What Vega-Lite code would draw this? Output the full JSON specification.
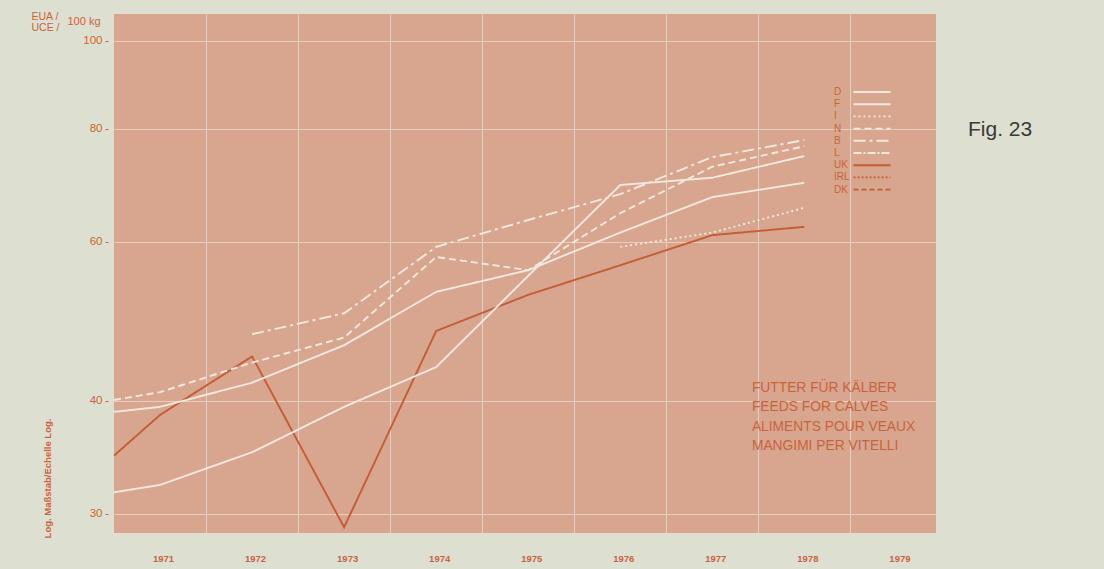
{
  "$schema": "https://vega.github.io/schema/vega-lite/v6.json",
  "width": 822,
  "height": 519,
  "autosize": {"type": "none"},
  "padding": {"left": 114, "top": 14, "right": 168, "bottom": 36},
  "background": "#dde0d0",
  "config": {
    "view": {"fill": "#d8a68f", "stroke": null},
    "font": "Liberation Sans"
  },
  "title": {
    "text": "Fig. 23",
    "anchor": "start",
    "frame": "group",
    "offset": 0,
    "dx": 854,
    "dy": 146,
    "baseline": "alphabetic",
    "fontSize": 21,
    "fontWeight": "normal",
    "color": "#3a3a3a",
    "font": "Liberation Sans"
  },
  "data": {
    "values": [
      {"s": "UK", "year": 1970.5, "v": 34.8},
      {"s": "UK", "year": 1971, "v": 38.6},
      {"s": "UK", "year": 1972, "v": 44.8},
      {"s": "UK", "year": 1973, "v": 29.0},
      {"s": "UK", "year": 1974, "v": 47.8},
      {"s": "UK", "year": 1975, "v": 52.4},
      {"s": "UK", "year": 1976, "v": 56.5},
      {"s": "UK", "year": 1977, "v": 61.0},
      {"s": "UK", "year": 1978, "v": 62.3},
      {"s": "D", "year": 1970.5, "v": 38.9},
      {"s": "D", "year": 1971, "v": 39.4},
      {"s": "D", "year": 1972, "v": 41.9},
      {"s": "D", "year": 1973, "v": 46.1},
      {"s": "D", "year": 1974, "v": 52.8},
      {"s": "D", "year": 1975, "v": 55.8},
      {"s": "D", "year": 1976, "v": 61.4},
      {"s": "D", "year": 1977, "v": 67.2},
      {"s": "D", "year": 1978, "v": 69.7},
      {"s": "F", "year": 1970.5, "v": 31.7},
      {"s": "F", "year": 1971, "v": 32.3},
      {"s": "F", "year": 1972, "v": 35.1},
      {"s": "F", "year": 1973, "v": 39.4},
      {"s": "F", "year": 1974, "v": 43.6},
      {"s": "F", "year": 1975, "v": 55.0},
      {"s": "F", "year": 1976, "v": 69.3},
      {"s": "F", "year": 1977, "v": 70.6},
      {"s": "F", "year": 1978, "v": 74.6},
      {"s": "N", "year": 1970.5, "v": 40.1},
      {"s": "N", "year": 1971, "v": 40.9},
      {"s": "N", "year": 1972, "v": 44.1},
      {"s": "N", "year": 1973, "v": 47.0},
      {"s": "N", "year": 1974, "v": 57.7},
      {"s": "N", "year": 1975, "v": 55.8},
      {"s": "N", "year": 1976, "v": 64.5},
      {"s": "N", "year": 1977, "v": 72.6},
      {"s": "N", "year": 1978, "v": 76.5},
      {"s": "B", "year": 1972, "v": 47.4},
      {"s": "B", "year": 1973, "v": 50.0},
      {"s": "B", "year": 1974, "v": 59.2},
      {"s": "B", "year": 1975, "v": 63.4},
      {"s": "B", "year": 1976, "v": 67.7},
      {"s": "B", "year": 1977, "v": 74.4},
      {"s": "B", "year": 1978, "v": 77.7},
      {"s": "I", "year": 1976, "v": 59.2},
      {"s": "I", "year": 1977, "v": 61.4},
      {"s": "I", "year": 1978, "v": 65.4}
    ]
  },
  "layer": [
    {
      "mark": {"type": "line", "strokeCap": "butt", "strokeJoin": "miter"},
      "encoding": {
        "x": {
          "field": "year",
          "type": "quantitative",
          "scale": {"domain": [1970.5, 1979.43], "nice": false, "zero": false},
          "axis": {
            "orient": "bottom",
            "values": [1971, 1972, 1973, 1974, 1975, 1976, 1977, 1978, 1979],
            "format": "d",
            "grid": false,
            "ticks": false,
            "domain": false,
            "labelPadding": 20,
            "labelOffset": 3,
            "labelFontSize": 9.5,
            "labelFontWeight": "bold",
            "labelColor": "#c8643c",
            "title": null
          }
        },
        "y": {
          "field": "v",
          "type": "quantitative",
          "scale": {"type": "log", "domain": [28.58, 107.1], "nice": false, "zero": false},
          "axis": {
            "orient": "left",
            "values": [30, 40, 60, 80, 100],
            "format": "d",
            "grid": true,
            "gridColor": "#ebcdbd",
            "gridWidth": 1,
            "gridOpacity": 1,
            "domain": false,
            "offset": 6,
            "tickSize": 3,
            "tickColor": "#c8643c",
            "labelPadding": 3,
            "labelFontSize": 11.5,
            "labelColor": "#c8643c",
            "title": "Log. Maßstab/Echelle Log.",
            "titleAngle": 270,
            "titleX": -61,
            "titleY": 464,
            "titleAlign": "center",
            "titleBaseline": "middle",
            "titleFontSize": 9.5,
            "titleFontWeight": "bold",
            "titleColor": "#c8643c"
          }
        },
        "color": {
          "field": "s",
          "type": "nominal",
          "scale": {
            "domain": ["D", "F", "I", "N", "B", "L", "UK", "IRL", "DK"],
            "range": ["#f1e8df", "#f1e8df", "#f1e8df", "#f1e8df", "#f1e8df", "#f1e8df", "#c55c36", "#c55c36", "#c55c36"]
          },
          "legend": {
            "orient": "none",
            "legendX": 752,
            "legendY": 72,
            "title": null,
            "symbolType": "M-3.7,0H3.7",
            "symbolSize": 100,
            "labelAlign": "left",
            "labelOffset": -44,
            "labelFontSize": 10,
            "labelColor": "#c8643c",
            "rowPadding": 1.2
          }
        },
        "strokeDash": {
          "field": "s",
          "type": "nominal",
          "scale": {
            "domain": ["D", "F", "I", "N", "B", "L", "UK", "IRL", "DK"],
            "range": [[1, 0], [1, 0], [2, 3], [7, 4], [12, 4, 3, 4], [8, 2, 2, 2], [1, 0], [2, 2], [5, 3]]
          }
        },
        "strokeWidth": {
          "field": "s",
          "type": "nominal",
          "scale": {
            "domain": ["D", "F", "I", "N", "B", "L", "UK", "IRL", "DK"],
            "range": [1.9, 1.9, 1.9, 1.9, 1.9, 1.9, 2.8, 1.9, 1.9]
          }
        }
      }
    },
    {
      "mark": {"type": "point", "opacity": 0},
      "encoding": {
        "x": {
          "field": "year",
          "type": "quantitative",
          "axis": {
            "orient": "bottom",
            "values": [1971.5, 1972.5, 1973.5, 1974.5, 1975.5, 1976.5, 1977.5, 1978.5],
            "grid": true,
            "gridColor": "#ebcdbd",
            "gridWidth": 1,
            "gridOpacity": 1,
            "labels": false,
            "ticks": false,
            "domain": false,
            "title": "100 kg",
            "titleX": -47,
            "titleY": -512,
            "titleAngle": 0,
            "titleAlign": "left",
            "titleBaseline": "middle",
            "titleFontSize": 11,
            "titleFontWeight": "normal",
            "titleColor": "#c8643c"
          }
        },
        "y": {
          "field": "v",
          "type": "quantitative",
          "axis": {
            "orient": "left",
            "labels": false,
            "ticks": false,
            "domain": false,
            "grid": false,
            "title": ["EUA /", "UCE /"],
            "titleX": -83,
            "titleY": -3,
            "titleAngle": 0,
            "titleAlign": "left",
            "titleBaseline": "top",
            "titleLineHeight": 11,
            "titleFontSize": 10.5,
            "titleFontWeight": "normal",
            "titleColor": "#c8643c"
          }
        }
      }
    },
    {
      "data": {"values": [{}]},
      "mark": {
        "type": "text",
        "align": "left",
        "baseline": "middle",
        "fontSize": 13.8,
        "lineHeight": 19.3,
        "color": "#c8643c"
      },
      "encoding": {
        "x": {"datum": 1977.43, "type": "quantitative", "axis": null},
        "y": {"datum": 41.34, "type": "quantitative", "axis": null},
        "text": {"value": ["FUTTER FÜR KÄLBER", "FEEDS FOR CALVES", "ALIMENTS POUR VEAUX", "MANGIMI PER VITELLI"]}
      }
    }
  ],
  "resolve": {"axis": {"x": "independent", "y": "independent"}}
}
